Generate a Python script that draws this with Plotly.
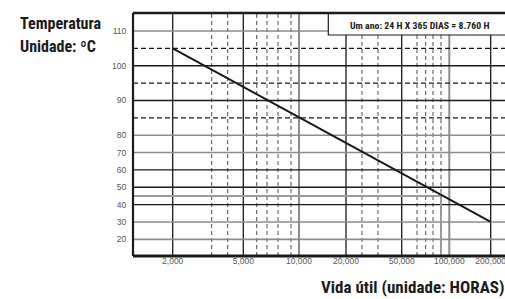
import numpy as np
import plotly.graph_objects as go

# ---------------- data ----------------
life_hours = [2000, 200000]          # vida útil (horas)
life_temp_c = [105, 30]              # temperatura (ºC)
marker_hours = 90000
marker_temp_c = 45

x_tick_hours = [2000, 5000, 10000, 20000, 50000, 100000, 200000]
x_tick_labels = ["2,000", "5,000", "10,000", "20,000", "50,000", "100,000", "200,000"]
x_dashed_hours = [3000, 4000, 6000, 7000, 8000, 9000,
                  30000, 40000, 60000, 70000, 80000, 90000]
y_tick_temps = [110, 100, 90, 80, 70, 60, 50, 40, 30, 20]
y_tick_labels = ["110", "100", "90", "80", "70", "60", "50", "40", "30", "20"]
y_dashed_temps = [105, 95, 85]
note_text = "Um ano: 24 H X 365 DIAS = 8.760 H"

# ------------- axis scales of the printed chart -------------
# hand-drawn log paper: calibration of the horizontal scale (axis units)
X_CAL_HOURS = [2000, 3000, 4000, 5000, 6000, 7000, 8000, 9000, 10000,
               20000, 30000, 40000, 50000, 60000, 70000, 80000, 90000,
               100000, 200000]
X_CAL_UNITS = [39.7, 78.7, 94.7, 110.3, 123.7, 134.0, 145.0, 158.0, 166.0,
               213.0, 229.0, 245.0, 268.7, 284.0, 292.7, 300.0, 308.0,
               316.3, 357.7]
X_RANGE = [0, 372]
Y_RANGE = [10.4, 150.4]


def xs(h):
    return np.interp(np.log10(np.asarray(h, float)), np.log10(X_CAL_HOURS), X_CAL_UNITS)


def ys(t):
    # temperature axis: scale doubled above 80 ºC
    t = np.asarray(t, float)
    return np.where(t > 80, 80 + 2 * (t - 80), t)


BLACK = "#1a1a1a"
GRAY = "#8c8c8c"
DGRAY = "#4a4a4a"

x_solid_color = {2000: BLACK, 5000: BLACK, 10000: GRAY, 20000: BLACK,
                 50000: BLACK, 100000: GRAY, 200000: BLACK}
y_solid_color = {110: GRAY, 100: BLACK, 90: BLACK, 80: GRAY, 70: GRAY,
                 60: BLACK, 50: BLACK, 40: BLACK, 30: GRAY, 20: GRAY}

shapes = []
for h in x_dashed_hours:
    shapes.append(dict(type="line", xref="x", yref="paper", x0=float(xs(h)), x1=float(xs(h)),
                       y0=0, y1=1, line=dict(color=DGRAY, width=1, dash="4px,3px"), layer="below"))
for h in x_tick_hours:
    c = x_solid_color[h]
    shapes.append(dict(type="line", xref="x", yref="paper", x0=float(xs(h)), x1=float(xs(h)),
                       y0=0, y1=1, line=dict(color=c, width=2 if c == GRAY else 1.3), layer="below"))
for t in y_dashed_temps:
    shapes.append(dict(type="line", xref="paper", yref="y", x0=0, x1=1,
                       y0=float(ys(t)), y1=float(ys(t)),
                       line=dict(color=BLACK, width=1.1, dash="5px,3px"), layer="below"))
for t in y_tick_temps:
    c = y_solid_color[t]
    shapes.append(dict(type="line", xref="paper", yref="y", x0=0, x1=1,
                       y0=float(ys(t)), y1=float(ys(t)),
                       line=dict(color=c, width=1.6 if c == GRAY else 1.3), layer="below"))

# note box
shapes.append(dict(type="rect", xref="paper", yref="paper", x0=0.525, x1=1.05, y0=0.9095, y1=1.0,
                   line=dict(color=BLACK, width=1.2), fillcolor="white", layer="above"))
# frame
shapes.append(dict(type="line", xref="paper", yref="paper", x0=0, x1=0, y0=0, y1=1,
                   line=dict(color=BLACK, width=2.2), layer="above"))
shapes.append(dict(type="line", xref="paper", yref="paper", x0=0, x1=1, y0=1, y1=1,
                   line=dict(color=BLACK, width=2.5), layer="above"))
shapes.append(dict(type="line", xref="paper", yref="paper", x0=0, x1=1, y0=0, y1=0,
                   line=dict(color=BLACK, width=3.2), layer="above"))

fig = go.Figure()
# highlighted operating point
mx = float(xs(marker_hours))
my = float(ys(marker_temp_c))
fig.add_trace(go.Scatter(x=[X_RANGE[0], mx, mx], y=[my, my, Y_RANGE[0]], mode="lines",
                         line=dict(color="#9a9a9a", width=2), hoverinfo="skip", showlegend=False))
# life curve
fig.add_trace(go.Scatter(x=xs(life_hours), y=ys(life_temp_c), mode="lines",
                         line=dict(color=BLACK, width=2), showlegend=False))

title_font = "Roboto Condensed, Open Sans Condensed, DejaVu Sans Condensed, Liberation Sans Narrow, sans-serif"
tick_font = dict(family="Liberation Sans, Arial, sans-serif", size=8.5, color="#555555")

annotations = [
    dict(text="<b>" + note_text + "</b>", xref="paper", yref="paper", x=0.769, y=0.9506,
         xanchor="center", yanchor="middle", showarrow=False,
         font=dict(family=title_font, size=9.8, color=BLACK)),
    dict(text="<b>Temperatura</b>", xref="paper", yref="paper", x=-0.309, y=0.958,
         xanchor="left", yanchor="middle", showarrow=False,
         font=dict(family=title_font, size=16, color=BLACK)),
    dict(text="<b>Unidade: ºC</b>", xref="paper", yref="paper", x=-0.309, y=0.862,
         xanchor="left", yanchor="middle", showarrow=False,
         font=dict(family=title_font, size=16, color=BLACK)),
    dict(text="<b>Vida útil (unidade: HORAS)</b>", xref="paper", yref="paper", x=1.006, y=-0.127,
         xanchor="right", yanchor="middle", showarrow=False,
         font=dict(family=title_font, size=17, color=BLACK)),
]

fig.update_layout(
    width=505, height=299,
    margin=dict(l=133, r=0, t=13, b=43),
    paper_bgcolor="white", plot_bgcolor="white",
    shapes=shapes, annotations=annotations,
    xaxis=dict(range=X_RANGE, showgrid=False, zeroline=False, showline=False,
               tickmode="array", tickvals=[float(v) for v in xs(x_tick_hours)],
               ticktext=x_tick_labels, ticks="", ticklabeloverflow="allow",
               ticklabelstandoff=-2,
               tickfont=tick_font, fixedrange=True),
    yaxis=dict(range=Y_RANGE, showgrid=False, zeroline=False, showline=False,
               tickmode="array", tickvals=[float(v) for v in ys(y_tick_temps)],
               ticktext=y_tick_labels, ticks="outside", ticklen=4,
               tickcolor="rgba(0,0,0,0)", tickfont=tick_font, fixedrange=True),
    showlegend=False,
)

fig.write_html("out.html", config={"displayModeBar": False},
               post_script="document.body.style.margin='0';document.body.style.padding='0';")
